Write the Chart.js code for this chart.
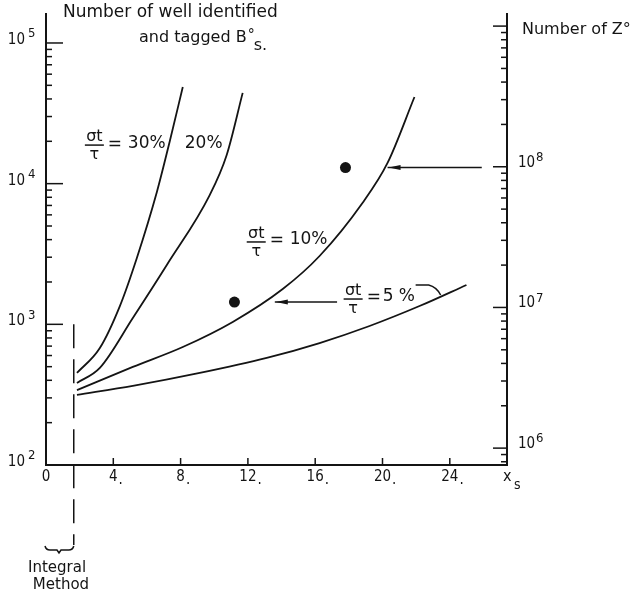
<!DOCTYPE html>
<html>
<head>
<meta charset="utf-8">
<script src="https://cdn.jsdelivr.net/npm/chart.js@4.4.1/dist/chart.umd.min.js"></script>
<style>
  html, body { margin: 0; padding: 0; background: #fff; }
  #wrap { width: 638px; height: 603px; }
</style>
</head>
<body>
<div id="wrap"><canvas id="plot"></canvas></div>
<script>
// x_s axis
const xTicks = [0, 4, 8, 12, 16, 20, 24];
const xTickLabels = ['0', '4.', '8.', '12.', '16.', '20.', '24.'];
// decades written on the B_s axis (left) and the Z axis (right)
const leftDecades = [2, 3, 4, 5];
const rightDecades = [6, 7, 8];

// well identified and tagged B_s versus x_s, one curve per sigma_t / tau
const xs30 = [1.84, 3.2, 4.39, 5.4, 6.59, 7.36, 8.13];
const nB30 = [451, 679, 1349, 2965, 8730, 20100, 48600];
const xs20 = [1.84, 3.2, 5.16, 7.18, 9.73, 10.74, 11.69];
const nB20 = [383, 490, 1109, 2642, 8300, 16000, 44200];
const xs10 = [1.84, 5.16, 8.13, 11.1, 14.07, 16.26, 18.81, 20.3, 21.9];
const nB10 = [341, 498, 690, 1040, 1782, 3060, 7290, 14030, 41300];
const xs5 = [1.84, 5.16, 9.14, 13.12, 16.26, 19.23, 22.2, 24.99];
const nB5 = [315, 365, 451, 577, 736, 973, 1349, 1905];
const resLabels = ['30%', '20%', '10%', '5 %'];

// the two marked points
const xsDots = [11.2, 17.8];
const nBDots = [1440, 13000];

// integral method cut
const xsIntegral = 1.65;

// axis ranges
const yMin = 100, yMax = Math.pow(10, 5.206);
const zShift = 3.88; // log10(N_Z) - log10(N_Bs) at the same height
const zMin = Math.pow(10, 2 + zShift), zMax = Math.pow(10, 5.206 + zShift);

const ink = '#141414';
const plotFont = '"DejaVu Sans", sans-serif';
const tickFont = '"DejaVu Sans Condensed", "DejaVu Sans", sans-serif';

function pts(xs, ys) {
  return xs.map((v, i) => ({ x: v, y: ys[i] }));
}
function curve(xs, ys) {
  return {
    data: pts(xs, ys),
    borderColor: ink,
    borderWidth: 1.8,
    pointRadius: 0,
    cubicInterpolationMode: 'monotone',
    fill: false
  };
}

const drawing = {
  id: 'drawing',
  afterDraw(chart) {
    const { ctx, chartArea: a } = chart;
    const sx = chart.scales.x, sy = chart.scales.y, sz = chart.scales.y2;
    ctx.save();
    ctx.strokeStyle = ink;
    ctx.fillStyle = ink;
    ctx.lineWidth = 1.5;

    const seg = (x1, y1, x2, y2) => {
      ctx.beginPath(); ctx.moveTo(x1, y1); ctx.lineTo(x2, y2); ctx.stroke();
    };
    const txt = (s, px, py, size, align, fam) => {
      ctx.font = size + 'px ' + (fam || plotFont);
      ctx.textAlign = align || 'left';
      ctx.textBaseline = 'middle';
      ctx.fillText(s, px, py);
      return ctx.measureText(s).width;
    };

    // log ticks on the left axis, pointing inwards
    for (let n = 2; n <= 5; n++) {
      for (let m = 1; m <= 9; m++) {
        const v = m * Math.pow(10, n);
        if (v > yMax) break;
        const py = sy.getPixelForValue(v);
        seg(a.left, py, a.left + (m === 1 ? 17 : 6), py);
      }
    }
    leftDecades.forEach(n => {
      const py = sy.getPixelForValue(Math.pow(10, n));
      txt('10', a.left - 21, py - 3, 15, 'right', tickFont);
      txt(String(n), a.left - 18, py - 9, 13, 'left', tickFont);
    });

    // log ticks on the right axis
    for (let n = 5; n <= 9; n++) {
      for (let m = 1; m <= 9; m++) {
        const v = m * Math.pow(10, n);
        if (v < zMin || v > zMax) continue;
        const py = sz.getPixelForValue(v);
        seg(a.right, py, a.right - (m === 1 ? 14 : 6), py);
      }
    }
    rightDecades.forEach(n => {
      const py = sz.getPixelForValue(Math.pow(10, n));
      txt('10', a.right + 11, py - 4, 15, 'left', tickFont);
      txt(String(n), a.right + 29, py - 9, 13, 'left', tickFont);
    });

    // x ticks and labels
    xTicks.forEach((t, i) => {
      const px = sx.getPixelForValue(t);
      if (t > 0) seg(px, a.bottom, px, a.bottom - 7);
      const lab = xTickLabels[i];
      const num = lab.replace('.', '');
      const w = txt(num, px, a.bottom + 12, 15, 'center', tickFont);
      if (lab.endsWith('.')) txt('.', px + w / 2 + 1, a.bottom + 15, 15, 'left', tickFont);
    });
    txt('x', a.right - 4, a.bottom + 12, 16, 'left', tickFont);
    txt('s', a.right + 7, a.bottom + 20, 14, 'left', tickFont);

    // axis titles
    txt('Number of well identified', a.left + 17, 13, 17, 'left');
    const w = txt('and tagged B', 139, 38, 16, 'left');
    txt('°', 139 + w + 1, 35, 14, 'left');
    txt('s.', 139 + w + 7, 46, 16, 'left');
    txt('Number of Z°', a.right + 15, 30, 16, 'left');

    // sigma_t / tau labels
    const frac = (xv, yv, value, gap) => {
      const bx = sx.getPixelForValue(xv), by = sy.getPixelForValue(yv);
      seg(bx, by, bx + 19, by);
      txt('σt', bx + 9.5, by - 8, 16, 'center');
      txt('τ', bx + 9.5, by + 10, 16, 'center');
      txt('=', bx + 23, by - 1, 17, 'left');
      txt(value, bx + 23 + gap, by - 2, 17, 'left');
      return { bx, by };
    };
    frac(2.31, 18800, resLabels[0], 20);
    txt(resLabels[1], sx.getPixelForValue(8.25), sy.getPixelForValue(18800) - 2, 17, 'left');
    frac(11.93, 3850, resLabels[2], 20);
    const f5 = frac(17.69, 1513, resLabels[3], 16);

    // connector from the 5 % label down to its curve
    ctx.beginPath();
    ctx.moveTo(f5.bx + 72, f5.by - 14);
    ctx.lineTo(f5.bx + 85, f5.by - 14);
    ctx.quadraticCurveTo(f5.bx + 93, f5.by - 12, f5.bx + 97, f5.by - 4);
    ctx.stroke();

    // arrows pointing at the 10 % curve
    const arrow = (x1, x2, yv) => {
      const p1 = sx.getPixelForValue(x1), p2 = sx.getPixelForValue(x2);
      const py = sy.getPixelForValue(yv);
      seg(p1, py, p2, py);
      ctx.beginPath();
      ctx.moveTo(p2 + 1, py);
      ctx.lineTo(p2 + 13, py - 2.5);
      ctx.lineTo(p2 + 13, py + 2.5);
      ctx.closePath();
      ctx.fill();
    };
    arrow(25.9, 20.3, nBDots[1]);
    arrow(17.3, 13.6, nBDots[0]);

    // integral method cut, running below the axis
    const ix = sx.getPixelForValue(xsIntegral);
    ctx.save();
    ctx.setLineDash([24, 11]);
    seg(ix, sy.getPixelForValue(1000), ix, a.bottom + 80);
    ctx.restore();

    // brace under the cut
    const by = a.bottom + 85;
    ctx.beginPath();
    ctx.moveTo(a.left - 1, by - 4);
    ctx.quadraticCurveTo(a.left, by, a.left + 4, by);
    ctx.lineTo(a.left + 11, by);
    ctx.lineTo(a.left + 13, by + 3);
    ctx.lineTo(a.left + 15, by);
    ctx.lineTo(ix - 5, by);
    ctx.quadraticCurveTo(ix - 1, by, ix, by - 4);
    ctx.stroke();
    txt('Integral', a.left + 11, a.bottom + 103, 15, 'center');
    txt('Method', a.left + 15, a.bottom + 120, 15, 'center');

    ctx.restore();
  }
};

new Chart(document.getElementById('plot'), {
  type: 'line',
  data: {
    datasets: [
      curve(xs30, nB30),
      curve(xs20, nB20),
      curve(xs10, nB10),
      curve(xs5, nB5),
      {
        data: pts(xsDots, nBDots),
        showLine: false,
        pointRadius: 5.5,
        pointBorderWidth: 0,
        pointBackgroundColor: ink
      }
    ]
  },
  options: {
    responsive: true,
    maintainAspectRatio: false,
    animation: false,
    events: [],
    layout: { padding: { top: 14, left: 0, right: 0, bottom: 0 }, autoPadding: false },
    plugins: { legend: { display: false }, tooltip: { enabled: false } },
    scales: {
      x: {
        type: 'linear', min: 0, max: 27.4,
        grid: { display: false }, ticks: { display: false },
        border: { color: ink, width: 2 },
        afterFit(s) { s.height = 138; }
      },
      y: {
        type: 'logarithmic', position: 'left', min: yMin, max: yMax,
        grid: { display: false }, ticks: { display: false },
        border: { color: ink, width: 2 },
        afterFit(s) { s.width = 46; }
      },
      y2: {
        type: 'logarithmic', position: 'right', min: zMin, max: zMax,
        grid: { display: false }, ticks: { display: false },
        border: { color: ink, width: 2 },
        afterFit(s) { s.width = 131; }
      }
    }
  },
  plugins: [drawing]
});
</script>
</body>
</html>
